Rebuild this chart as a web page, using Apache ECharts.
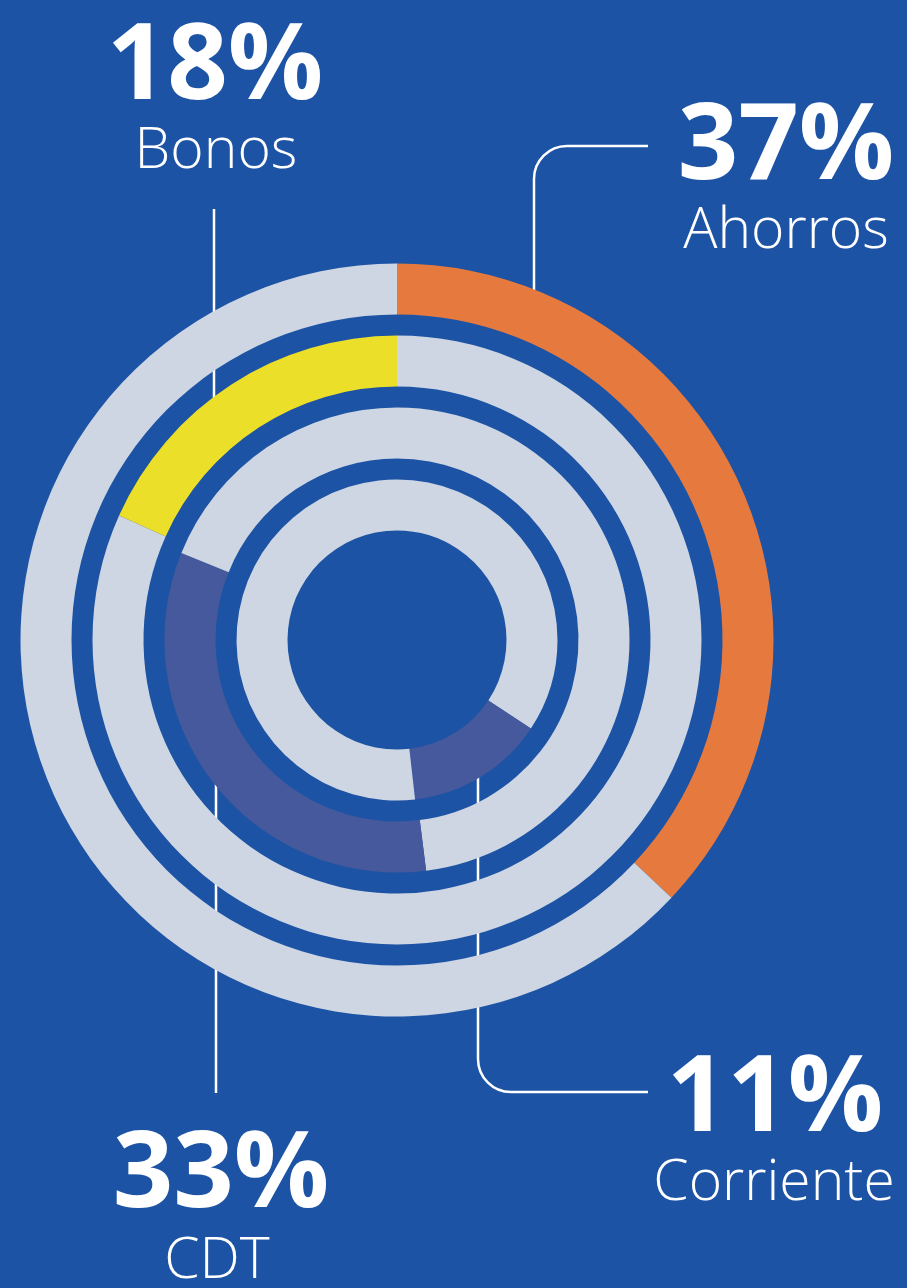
<!DOCTYPE html>
<html>
<head>
<meta charset="utf-8">
<script src="https://cdn.jsdelivr.net/npm/echarts@6/dist/echarts.min.js"></script>
<style>
  html, body { margin: 0; padding: 0; background: #1d53a5; }
  #chart { width: 907px; height: 1288px; }
</style>
</head>
<body>
<div id="chart"></div>
<script>
// rings, inner -> outer
const rings = ['Corriente', 'CDT', 'Bonos', 'Ahorros']
const shares = [11, 33, 18, 37] // printed percentages
// where each coloured arc sits, in % of the full turn from 12 o'clock, clockwise
const arcStart = [34.3, 48.0, 81.7, 0]
const arcEnd = [48.2, 81.1, 100, 37]
const arcColors = ['#45599c', '#45599c', '#ebdf2a', '#e67a3e']

const track = '#cdd6e2'
const white = '#ffffff'

// label positions (centre x, middle y of the number / name)
const labelPos = {
  Bonos: [215, 69, 216, 152],
  Ahorros: [786, 149, 786, 232],
  CDT: [221, 1177, 217, 1262],
  Corriente: [775, 1101, 774, 1184]
}

const chart = echarts.init(document.getElementById('chart'))

const lineStyle = { stroke: white, lineWidth: 2.5, fill: null }
const seg = (x1, y1, x2, y2) => ({ type: 'line', silent: true, shape: { x1, y1, x2, y2 }, style: lineStyle })
const corner = (cx, cy, a0, a1) => ({
  type: 'arc', silent: true,
  shape: { cx, cy, r: 33, startAngle: a0, endAngle: a1, clockwise: true },
  style: lineStyle
})

const lines = [
  seg(214, 209, 214, 430), // Bonos
  seg(534, 305, 534, 179), corner(567, 179, Math.PI, Math.PI * 1.5), seg(567, 146, 648, 146), // Ahorros
  seg(216, 730, 216, 1093), // CDT
  seg(478, 762, 478, 1059), corner(511, 1059, Math.PI / 2, Math.PI), seg(511, 1092, 648, 1092) // Corriente
]

const texts = []
rings.forEach((name, i) => {
  const p = labelPos[name]
  texts.push({
    type: 'text',
    silent: true,
    style: {
      text: shares[i] + '%', x: p[0], y: p[1],
      fill: white, font: 'bold 106px "Open Sans", sans-serif',
      textAlign: 'center', textVerticalAlign: 'middle'
    }
  })
  texts.push({
    type: 'text',
    silent: true,
    style: {
      text: name, x: p[2], y: p[3],
      fill: white, font: '300 57px "Open Sans", sans-serif',
      textAlign: 'center', textVerticalAlign: 'middle'
    }
  })
})

// one stack per ring: grey before, coloured arc, grey after
const ringBar = (data, extra) => Object.assign({
  type: 'bar', coordinateSystem: 'polar', stack: 'ring', barWidth: 51,
  silent: true, itemStyle: { color: track }, data
}, extra)

const option = {
  backgroundColor: '#1d53a5',
  animation: false,
  polar: { center: [397, 640], radius: [99, 387] },
  angleAxis: { type: 'value', min: 0, max: 100, startAngle: 90, clockwise: true, show: false },
  radiusAxis: { type: 'category', data: rings, show: false },
  series: [
    ringBar(arcStart),
    ringBar(arcEnd.map((e, i) => ({ value: +(e - arcStart[i]).toFixed(1), itemStyle: { color: arcColors[i] } }))),
    ringBar(arcEnd.map(e => +(100 - e).toFixed(1)))
  ],
  graphic: { elements: lines.concat(texts) }
}

chart.setOption(option)
</script>
</body>
</html>
